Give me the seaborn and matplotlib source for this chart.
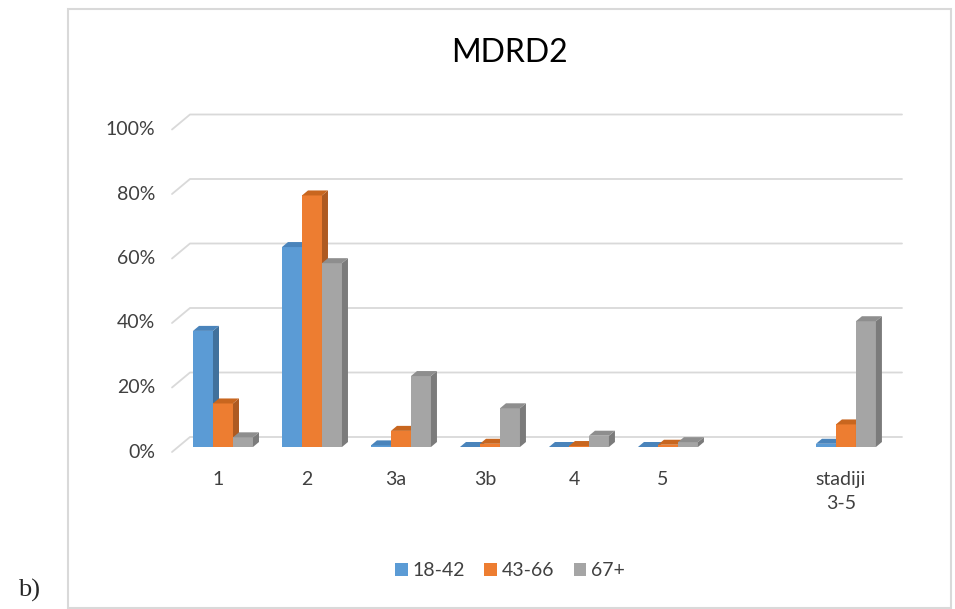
import matplotlib
matplotlib.use("Agg")
import matplotlib.pyplot as plt
from matplotlib.patches import Polygon, Rectangle, Patch
import numpy as np
import pandas as pd
import seaborn as sns

# data (percent)
categories = ["1", "2", "3a", "3b", "4", "5", " ", "stadiji\n3-5"]
groups = ["18-42", "43-66", "67+"]
vals_18_42 = [36.0, 62.0, 0.5, 0.0, 0.0, 0.0, np.nan, 1.0]
vals_43_66 = [13.5, 78.0, 5.0, 1.0, 0.3, 0.7, np.nan, 7.0]
vals_67 = [3.0, 57.0, 22.0, 12.0, 3.5, 1.5, np.nan, 39.0]
yticks = [0, 20, 40, 60, 80, 100]

colors = ["#5B9BD5", "#ED7D31", "#A5A5A5"]
side_colors = ["#41719C", "#AE5A21", "#7B7B7B"]
top_colors = ["#4A84BB", "#C8661F", "#8E8E8E"]

df = pd.DataFrame({
    "cat": categories * 3,
    "grp": [g for g in groups for _ in categories],
    "val": vals_18_42 + vals_43_66 + vals_67,
})

sns.set_style("white")
plt.rcParams["font.family"] = ["Lato", "DejaVu Sans"]

fig = plt.figure(figsize=(9.55, 6.09), dpi=100)
ax = fig.add_axes([172 / 955, 1 - 447 / 609, 730 / 955, 322.5 / 609])

sns.barplot(data=df, x="cat", y="val", hue="grp", order=categories,
            hue_order=groups, palette=colors, width=0.674, gap=0,
            errorbar=None, saturation=1, legend=False, ax=ax, linewidth=0)

xmin, xmax = -0.573, 7.63
ax.set_xlim(xmin, xmax)
ax.set_ylim(0, 100)
ax.set_xticks([])
ax.set_yticks([])
ax.set_xlabel("")
ax.set_ylabel("")
for s in ax.spines.values():
    s.set_visible(False)

# pixel -> data unit factors
ppx = 730 / (xmax - xmin)
ppy = 322.5 / 100

# back-wall gridlines with the short diagonal at the left
for v in yticks:
    xb = xmin + 18 / ppx
    yf = v - 5 / ppy
    yb = v + 10 / ppy
    ax.plot([xmin, xb, xmax], [yf, yb, yb], color="#D9D9D9", lw=1.3,
            clip_on=False, zorder=0.5)
    ax.text(xmin - 17 / ppx, yf, f"{v}%", ha="right", va="center",
            fontsize=14, color="#404040")

for i, c in enumerate(categories):
    ax.text(i - 5 / ppx, -24 / ppy, c, ha="center", va="top",
            fontsize=14, color="#404040", linespacing=1.5)

# 3D sides and tops for each bar
dx, dy = 6 / ppx, 5 / ppy
for k, cont in enumerate(ax.containers):
    for p in cont.patches:
        h = p.get_height()
        if np.isnan(h):
            continue
        x0 = p.get_x()
        w = p.get_width()
        p.set_zorder(2 + 2 * k)
        side = Polygon([(x0 + w, 0), (x0 + w, h), (x0 + w + dx, h + dy),
                        (x0 + w + dx, dy)], closed=True, fc=side_colors[k],
                       ec="none", zorder=2.5 + 2 * k, clip_on=False)
        top = Polygon([(x0, h), (x0 + w, h), (x0 + w + dx, h + dy),
                       (x0 + dx, h + dy)], closed=True, fc=top_colors[k],
                      ec="none", zorder=2.5 + 2 * k, clip_on=False)
        ax.add_patch(side)
        ax.add_patch(top)
        p.set_clip_on(False)

fig.text(509 / 955, 1 - 53 / 609, "MDRD2", ha="center", va="center",
         fontsize=23, color="#000000")

handles = [Patch(facecolor=c, edgecolor="none") for c in colors]
fig.legend(handles, groups, loc="center", bbox_to_anchor=(510 / 955, 1 - 571 / 609),
           ncol=3, frameon=False, fontsize=14, handlelength=0.65,
           handleheight=0.65, handletextpad=0.25, columnspacing=1.0,
           labelcolor="#404040")

# chart frame and outside label
fig.patches.append(Rectangle((68 / 955, 1 / 609), 883 / 955, 599 / 609,
                             transform=fig.transFigure, fill=False,
                             ec="#D9D9D9", lw=1.5))
fig.text(18 / 955, 1 - 590 / 609, "b)", ha="left", va="center",
         fontsize=19, family="Liberation Serif")

fig.savefig("out.png", dpi=100)
